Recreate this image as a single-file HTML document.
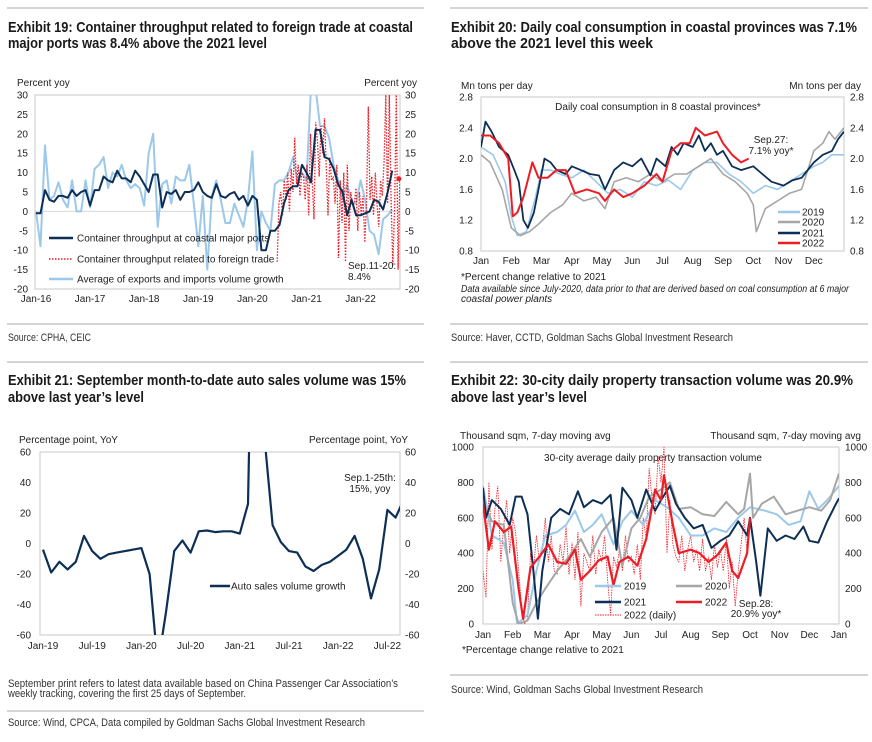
<!DOCTYPE html>
<html><head><meta charset="utf-8"><style>
html,body{margin:0;padding:0;background:#fff;}
svg{display:block;font-family:"Liberation Sans",sans-serif;}
.t{font-weight:bold;font-size:15px;fill:#1a1a1a;}
.s{font-size:11px;fill:#333;}
.ax{font-size:10px;fill:#222;}
</style></head><body>
<svg id="root" width="872" height="742" viewBox="0 0 872 742">
<defs>
<clipPath id="c1"><rect x="35" y="95" width="365" height="194"/></clipPath>
<clipPath id="c2"><rect x="481" y="97" width="363" height="154"/></clipPath>
<clipPath id="c3"><rect x="40" y="452" width="360" height="183"/></clipPath>
<clipPath id="c4"><rect x="483" y="447" width="356" height="177"/></clipPath>
</defs>
<g stroke="#d4d4d4" stroke-width="2">
<line x1="7" y1="8" x2="424" y2="8"/><line x1="450" y1="8" x2="868" y2="8"/>
<line x1="7" y1="324" x2="424" y2="324"/><line x1="450" y1="324" x2="868" y2="324"/>
<line x1="7" y1="362" x2="424" y2="362"/><line x1="450" y1="362" x2="868" y2="362"/>
<line x1="7" y1="711" x2="424" y2="711"/><line x1="450" y1="675" x2="868" y2="675"/>
</g>
<text class="t" x="8" y="32" textLength="405" lengthAdjust="spacingAndGlyphs">Exhibit 19: Container throughput related to foreign trade at coastal</text>
<text class="t" x="8" y="48" textLength="259" lengthAdjust="spacingAndGlyphs">major ports was 8.4% above the 2021 level</text>
<text class="t" x="451" y="32" textLength="406" lengthAdjust="spacingAndGlyphs">Exhibit 20: Daily coal consumption in coastal provinces was 7.1%</text>
<text class="t" x="451" y="48" textLength="202" lengthAdjust="spacingAndGlyphs">above the 2021 level this week</text>
<text class="t" x="8" y="385" textLength="398" lengthAdjust="spacingAndGlyphs">Exhibit 21: September month-to-date auto sales volume was 15%</text>
<text class="t" x="8" y="402" textLength="136" lengthAdjust="spacingAndGlyphs">above last year’s level</text>
<text class="t" x="451" y="385" textLength="402" lengthAdjust="spacingAndGlyphs">Exhibit 22: 30-city daily property transaction volume was 20.9%</text>
<text class="t" x="451" y="402" textLength="136" lengthAdjust="spacingAndGlyphs">above last year’s level</text>
<text class="s" x="8" y="341" textLength="83" lengthAdjust="spacingAndGlyphs">Source: CPHA, CEIC</text>
<text class="s" x="451" y="341" textLength="282" lengthAdjust="spacingAndGlyphs">Source: Haver, CCTD, Goldman Sachs Global Investment Research</text>
<text class="s" x="8" y="726" textLength="357" lengthAdjust="spacingAndGlyphs">Source: Wind, CPCA, Data compiled by Goldman Sachs Global Investment Research</text>
<text class="s" x="451" y="693" textLength="252" lengthAdjust="spacingAndGlyphs">Source: Wind, Goldman Sachs Global Investment Research</text>
<text class="s" x="8" y="687" textLength="390" lengthAdjust="spacingAndGlyphs">September print refers to latest data available based on China Passenger Car Association’s</text>
<text class="s" x="8" y="697" textLength="238" lengthAdjust="spacingAndGlyphs">weekly tracking, covering the first 25 days of September.</text>
<text class="ax" x="461" y="280">*Percent change relative to 2021</text>
<text class="ax" x="461" y="292" font-style="italic" textLength="388" lengthAdjust="spacingAndGlyphs">Data available since July-2020, data prior to that are derived based on coal consumption at 6 major</text>
<text class="ax" x="461" y="302" font-style="italic">coastal power plants</text>
<text class="ax" x="462" y="653">*Percentage change relative to 2021</text>
</svg>
<script>
// ---------- Exhibit 19 data ----------
const p1Months = ["Jan-16","Jan-17","Jan-18","Jan-19","Jan-20","Jan-21","Jan-22"];
const p1Ticks = [-20,-15,-10,-5,0,5,10,15,20,25,30];
const p1Ports = [-0.5,-0.5,5.5,3,2.5,4,4,3.5,5.5,4,5,5.5,1.5,5.5,5.5,9,8,7.5,10.5,8.5,8.5,7.5,10.5,9,7,5,9.5,9.5,1,5,4.5,5.5,3,5,5,5.5,7.5,5,4,3.5,7,4,3.5,4.5,5,3,4,1.5,4,3,-10,-10,-5,-5,-3.5,2,5.5,6.5,6.5,12,10,7.5,21,21,14,13.5,11,7,5,-1,3,-1,-1,-0.5,0,3,2.5,0.5,5,10.5];
const p1Trade = [0,-9,17,3,4,7.5,3,1,8,0,0,8,1,11,12,14,6,10,9,12,8,6,7,6,1.5,15,20,-4,7,8,2,9,8,8,12,2,-9,4,-15,4,8,3,-3,-3,2,-1,-4,3,15.5,-10,0,-3,-5,7,8,8,10,14,8,10,8,32,32,22,22,19,12,8,3,7,2,2,8,3,-5,-6,-11,-2,-1,0.5];
const p1Foreign = [-13,2,5,-1,8,3,10,0,11,5,19,7,12,4,10,9,3,12,-1,20,8,-2,23,18,9,22,15,24,12,-1,14,8,9,2,12,-12,8,-3,10,-13,12,-5,5,2,2,6,-5,5,-1,4,-8,2,27,3,9,-1,10,2,-4,8,4,13,30,2,30,3,-14,1,30,-15,8.4];
const p1ForeignStart = 53.5, p1ForeignEnd = 80.7;
// ---------- Exhibit 20 data ----------
const p2MonthLabels = ["Jan","Feb","Mar","Apr","May","Jun","Jul","Aug","Sep","Oct","Nov","Dec"];
const p2Ticks = [0.8,1.2,1.6,2.0,2.4,2.8];
const c2019t = [0,0.4,0.8,1.0,1.2,1.5,1.8,2.0,2.3,2.6,3.0,3.4,3.8,4.2,4.6,5.0,5.4,5.8,6.2,6.6,7.0,7.4,7.8,8.2,8.6,9.0,9.4,9.8,10.2,10.6,11.0,11.3,11.6,12];
const c2019v = [2.15,2.05,1.7,1.25,1.0,1.05,1.5,1.85,1.85,1.8,1.75,1.85,1.7,1.55,1.6,1.5,1.7,1.65,1.72,1.6,1.85,1.95,1.95,1.8,1.7,1.55,1.65,1.6,1.7,1.8,1.9,1.95,2.05,2.05];
const c2020t = [0,0.3,0.7,1.0,1.3,1.6,1.9,2.3,2.7,3.0,3.4,3.8,4.1,4.4,4.8,5.2,5.6,6.0,6.4,6.8,7.2,7.6,8.0,8.4,8.8,9.0,9.1,9.4,9.8,10.2,10.6,11.0,11.3,11.5,11.7,12];
const c2020v = [2.05,1.95,1.6,1.1,1.0,1.05,1.15,1.3,1.4,1.55,1.45,1.5,1.35,1.7,1.75,1.7,1.8,1.7,1.8,1.8,1.9,2.0,1.8,1.7,1.55,1.4,1.05,1.35,1.45,1.55,1.6,2.1,2.2,2.35,2.25,2.4];
const c2021t = [0,0.15,0.35,0.6,0.9,1.1,1.25,1.4,1.55,1.75,1.95,2.1,2.3,2.5,2.8,3.0,3.3,3.6,3.9,4.1,4.4,4.7,5.0,5.3,5.6,5.8,6.1,6.3,6.5,6.7,7.0,7.2,7.4,7.6,7.8,8.0,8.3,8.6,9.0,9.3,9.6,10.0,10.3,10.6,11.0,11.3,11.6,11.8,12];
const c2021v = [2.15,2.48,2.35,2.15,2.05,1.85,1.7,1.2,1.1,1.3,1.7,2.0,1.95,1.85,1.8,1.9,1.85,1.8,1.78,1.6,1.85,1.95,1.9,2.0,1.78,2.0,1.9,2.15,2.05,2.2,2.15,2.3,2.1,2.2,2.05,2.1,1.9,1.85,1.9,1.8,1.7,1.65,1.72,1.75,1.95,2.05,2.1,2.25,2.35];
const c2022t = [0,0.3,0.6,0.9,1.05,1.2,1.4,1.7,1.9,2.2,2.5,2.8,3.1,3.5,3.9,4.1,4.4,4.7,5.0,5.4,5.8,6.0,6.3,6.6,6.9,7.1,7.4,7.8,8.0,8.3,8.6,8.85];
const c2022v = [2.3,2.3,2.2,2.0,1.25,1.3,1.5,1.95,1.75,1.75,1.85,1.85,1.55,1.6,1.55,1.45,1.6,1.5,1.55,1.65,1.8,1.7,2.1,2.2,2.2,2.4,2.3,2.35,2.2,2.05,1.95,2.0];
// ---------- Exhibit 21 data ----------
const p3Labels = ["Jan-19","Jul-19","Jan-20","Jul-20","Jan-21","Jul-21","Jan-22","Jul-22"];
const p3Ticks = [-60,-40,-20,0,20,40,60];
const p3Auto = [-4,-19,-12,-17,-12,5,-5,-10,-7,-6,-5,-4,-3,-20,-80,-45,-5,2,-6,8,8.5,7.5,8,8,6.5,26,300,70,12,1,-5,-6,-15,-18,-14,-12,-8,-4,5,-10,-36,-17,22,17,29,15];
// ---------- Exhibit 22 data ----------
const p4MonthLabels = ["Jan","Feb","Mar","Apr","May","Jun","Jul","Aug","Sep","Oct","Nov","Dec","Jan"];
const p4Ticks = [0,200,400,600,800,1000];
const h2019t = [0,0.3,0.7,1.0,1.15,1.5,1.8,2.1,2.5,2.8,3.1,3.4,3.7,4.0,4.4,4.7,5.0,5.4,5.8,6.2,6.6,7.0,7.4,7.8,8.2,8.6,9.0,9.5,9.9,10.3,10.7,11.0,11.3,11.6,12];
const h2019v = [780,500,460,250,0,50,300,500,520,560,640,520,560,620,450,580,640,560,700,660,600,500,500,540,520,600,660,640,620,560,580,750,650,700,780];
const h2020t = [0,0.3,0.7,1.0,1.2,1.5,1.8,2.1,2.5,2.9,3.3,3.6,4.0,4.4,4.7,5.0,5.3,5.6,6.0,6.3,6.6,7.0,7.4,7.8,8.2,8.6,8.8,9.0,9.1,9.4,9.8,10.2,10.6,11.0,11.4,11.7,12];
const h2020v = [690,580,560,120,0,20,120,200,300,380,480,380,520,600,330,540,600,720,760,800,650,660,620,610,690,620,650,850,600,680,720,620,640,660,640,700,850];
const h2021t = [0,0.1,0.3,0.6,0.9,1.1,1.3,1.5,1.7,1.85,2.0,2.3,2.6,2.9,3.2,3.4,3.7,4.0,4.3,4.5,4.7,5.0,5.2,5.5,5.8,6.0,6.3,6.5,6.8,7.1,7.4,7.7,8.0,8.3,8.6,8.9,9.0,9.2,9.35,9.6,9.9,10.2,10.5,10.8,11.0,11.3,11.6,11.9,12];
const h2021v = [770,600,700,650,560,720,720,620,300,30,300,600,650,620,750,660,700,680,730,420,770,700,600,760,640,700,780,680,600,540,560,430,470,500,580,500,600,360,160,540,470,500,480,550,470,460,580,680,710];
const h2022t = [0,0.2,0.4,0.7,0.95,1.2,1.35,1.6,1.9,2.2,2.5,2.8,3.1,3.3,3.6,3.9,4.2,4.4,4.6,4.9,5.2,5.5,5.8,6.0,6.1,6.4,6.6,7.0,7.3,7.6,7.9,8.2,8.4,8.6,8.9,9.0];
const h2022v = [680,420,580,520,550,200,30,320,380,450,350,340,420,250,300,360,380,220,350,380,330,480,760,700,840,560,400,420,400,350,390,460,300,260,400,600];
const h2022daily = [300,150,800,420,650,780,350,560,700,400,600,520,300,100,0,30,400,300,500,350,420,600,350,500,300,280,450,350,550,280,460,250,520,100,400,350,300,500,280,420,350,500,250,50,380,320,420,300,500,350,380,280,450,250,600,480,880,700,620,950,800,1000,400,700,450,380,350,500,300,420,500,350,420,300,480,300,380,250,450,320,420,300,480,200,350,100,300,450,600,400,600];

const NS = 'http://www.w3.org/2000/svg';
const root = document.getElementById('root');
function mk(tag, attrs, parent){ const e=document.createElementNS(NS,tag); for(const k in attrs) e.setAttribute(k,attrs[k]); (parent||root).appendChild(e); return e; }
function txt(s, attrs, parent){ const e=mk('text',attrs,parent); e.textContent=s; return e; }
function pathD(xs, ys, sx, sy){ let d=''; for(let i=0;i<xs.length;i++){ d+=(i?'L':'M')+sx(xs[i]).toFixed(1)+','+sy(ys[i]).toFixed(1);} return d; }
const NAVY='#0d2f55', LBLUE='#9cc8ea', GRAY='#a6a6a6', RED='#ee1c25';

// ===== Panel 1 =====
(function(){
  const sx=m=>36+m*54.1/12, sy=v=>95+(30-v)*194/50;
  const g=mk('g',{});  
  const fr=mk('rect',{x:35,y:95,width:365,height:194,fill:'none',stroke:'#c8c8c8','stroke-width':1},g);
   
  const z=mk('line',{x1:35,x2:400,y1:sy(0),y2:sy(0),stroke:'#d8d8d8','stroke-width':1},g);
   
  p1Ticks.forEach(v=>{
    const a=txt(String(v),{x:28,y:sy(v)+3.5,'text-anchor':'end',class:'ax'},g);
     
    const b=txt(String(v),{x:405,y:sy(v)+3.5,class:'ax'},g);
     
  });
  p1Months.forEach((s,i)=>{
    const a=txt(s,{x:sx(i*12),y:302,'text-anchor':'middle',class:'ax'},g);
     
  });
  const l1=txt('Percent yoy',{x:17,y:86,class:'ax'},g);  
  const l2=txt('Percent yoy',{x:417,y:86,'text-anchor':'end',class:'ax'},g);  
  const cg=mk('g',{'clip-path':'url(#c1)'},g);
  const idx=a=>a.map((_,i)=>i);
  const s3=mk('path',{d:pathD(idx(p1Trade),p1Trade,sx,sy),fill:'none',stroke:LBLUE,'stroke-width':2,'stroke-linejoin':'round'},cg);
   
  const n=p1Foreign.length, fx=p1Foreign.map((_,i)=>p1ForeignStart+i*(p1ForeignEnd-p1ForeignStart)/(n-1));
  const s2=mk('path',{d:pathD(fx,p1Foreign,sx,sy),fill:'none',stroke:RED,'stroke-width':1.3,'stroke-dasharray':'1.5,1.5'},cg);
   
  const s1=mk('path',{d:pathD(idx(p1Ports),p1Ports,sx,sy),fill:'none',stroke:NAVY,'stroke-width':2,'stroke-linejoin':'round'},cg);
   
  const dot=mk('circle',{cx:sx(p1ForeignEnd)-1,cy:sy(p1Foreign[n-1]),r:2.5,fill:RED},g);
   
  const legs=[['Container throughput at coastal major ports',NAVY,'',2.5,238],['Container throughput related to foreign trade',RED,'1.5,1.5',1.5,259],['Average of exports and imports volume growth',LBLUE,'',2.5,279]];
  legs.forEach(L=>{
    const ln=mk('line',{x1:49,x2:73,y1:L[4],y2:L[4],stroke:L[1],'stroke-width':L[3],'stroke-dasharray':L[2]||'none'},g);
     
    const t=txt(L[0],{x:77,y:L[4]+3.5,class:'ax'},g);
     
  });
  const a1=txt('Sep.11-20:',{x:348,y:269,class:'ax',fill:RED},g);  
  const a2=txt('8.4%',{x:348,y:280,class:'ax',fill:RED},g);  
})();

// ===== Panel 2 =====
(function(){
  const sx=t=>481+t*30.25, sy=v=>97+(2.8-v)*77;
  const g=mk('g',{});  
  const fr=mk('rect',{x:481,y:97,width:363,height:154,fill:'none',stroke:'#c8c8c8','stroke-width':1},g);
   
  p2Ticks.forEach(v=>{
    const a=txt(v.toFixed(1),{x:473,y:sy(v)+3.5,'text-anchor':'end',class:'ax'},g);
     
    const b=txt(v.toFixed(1),{x:850,y:sy(v)+3.5,class:'ax'},g);
     
  });
  p2MonthLabels.forEach((s,i)=>{
    const a=txt(s,{x:sx(i),y:264,'text-anchor':'middle',class:'ax'},g);
     
  });
  const l1=txt('Mn tons per day',{x:461,y:89,class:'ax'},g);  
  const l2=txt('Mn tons per day',{x:861,y:89,'text-anchor':'end',class:'ax'},g);  
  const st=txt('Daily coal consumption in 8 coastal provinces*',{x:658,y:110,'text-anchor':'middle',class:'ax'},g);  
  const cg=mk('g',{'clip-path':'url(#c2)'},g);
  const S=[[c2019t,c2019v,LBLUE,1.6,'series-2019'],[c2020t,c2020v,GRAY,1.6,'series-2020'],[c2021t,c2021v,NAVY,1.8,'series-2021'],[c2022t,c2022v,RED,2,'series-2022']];
  S.forEach(s=>{
    const p=mk('path',{d:pathD(s[0],s[1],sx,sy),fill:'none',stroke:s[2],'stroke-width':s[3],'stroke-linejoin':'round'},cg);
     
  });
  const legs=[['2019',LBLUE,212],['2020',GRAY,222],['2021',NAVY,233],['2022',RED,243]];
  legs.forEach(L=>{
    const ln=mk('line',{x1:778,x2:800,y1:L[2],y2:L[2],stroke:L[1],'stroke-width':2.5},g);
     
    const t=txt(L[0],{x:802,y:L[2]+3.5,class:'ax'},g);
     
  });
  const a1=txt('Sep.27:',{x:771,y:143,'text-anchor':'middle',class:'ax',fill:RED},g);  
  const a2=txt('7.1% yoy*',{x:771,y:154,'text-anchor':'middle',class:'ax',fill:RED},g);  
})();

// ===== Panel 3 =====
(function(){
  const sx=m=>43+m*8.2, sy=v=>452+(60-v)*183/120;
  const g=mk('g',{});  
  const fr=mk('rect',{x:40,y:452,width:360,height:183,fill:'none',stroke:'#c8c8c8','stroke-width':1},g);
   
  p3Ticks.forEach(v=>{
    const a=txt(String(v),{x:31,y:sy(v)+3.5,'text-anchor':'end',class:'ax'},g);
     
    const b=txt(String(v),{x:405,y:sy(v)+3.5,class:'ax'},g);
     
  });
  p3Labels.forEach((s,i)=>{
    const a=txt(s,{x:sx(i*6),y:649,'text-anchor':'middle',class:'ax'},g);
     
  });
  const l1=txt('Percentage point, YoY',{x:19,y:443,class:'ax'},g);  
  const l2=txt('Percentage point, YoY',{x:408,y:443,'text-anchor':'end',class:'ax'},g);  
  const cg=mk('g',{'clip-path':'url(#c3)'},g);
  const p=mk('path',{d:pathD(p3Auto.map((_,i)=>i),p3Auto,sx,sy),fill:'none',stroke:NAVY,'stroke-width':2.2,'stroke-linejoin':'round'},cg);
   
  const ln=mk('line',{x1:210,x2:230,y1:586,y2:586,stroke:NAVY,'stroke-width':2.5},g);
   
  const t=txt('Auto sales volume growth',{x:231,y:589.5,class:'ax'},g);
   
  const a1=txt('Sep.1-25th:',{x:370,y:481,'text-anchor':'middle',class:'ax',fill:RED},g);  
  const a2=txt('15%, yoy',{x:370,y:492,'text-anchor':'middle',class:'ax',fill:RED},g);  
})();

// ===== Panel 4 =====
(function(){
  const sx=t=>483+t*29.67, sy=v=>624-v*0.177;
  const g=mk('g',{});  
  const fr=mk('rect',{x:483,y:447,width:356,height:177,fill:'none',stroke:'#c8c8c8','stroke-width':1},g);
   
  p4Ticks.forEach(v=>{
    const a=txt(String(v),{x:474,y:sy(v)+3.5,'text-anchor':'end',class:'ax'},g);
     
    const b=txt(String(v),{x:845,y:sy(v)+3.5,class:'ax'},g);
     
  });
  p4MonthLabels.forEach((s,i)=>{
    const a=txt(s,{x:sx(i),y:638,'text-anchor':'middle',class:'ax'},g);
     
  });
  const l1=txt('Thousand sqm, 7-day moving avg',{x:460,y:439,class:'ax'},g);  
  const l2=txt('Thousand sqm, 7-day moving avg',{x:861,y:439,'text-anchor':'end',class:'ax'},g);  
  const st=txt('30-city average daily property transaction volume',{x:653,y:461,'text-anchor':'middle',class:'ax'},g);  
  const cg=mk('g',{'clip-path':'url(#c4)'},g);
  const dt=h2022daily.map((_,i)=>i*0.1);
  const pd=mk('path',{d:pathD(dt,h2022daily,sx,sy),fill:'none',stroke:RED,'stroke-width':0.8,'stroke-dasharray':'1.5,1'},cg);
   
  const S=[[h2019t,h2019v,LBLUE,2,'series-2019'],[h2020t,h2020v,GRAY,2,'series-2020'],[h2021t,h2021v,NAVY,2,'series-2021'],[h2022t,h2022v,RED,2.2,'series-2022']];
  S.forEach(s=>{
    const p=mk('path',{d:pathD(s[0],s[1],sx,sy),fill:'none',stroke:s[2],'stroke-width':s[3],'stroke-linejoin':'round'},cg);
     
  });
  const legs=[['2019',LBLUE,595,586,'',2.5],['2020',GRAY,676,586,'',2.5],['2021',NAVY,595,602,'',2.5],['2022',RED,676,602,'',2.5],['2022 (daily)',RED,595,615,'1.5,1',1]];
  legs.forEach(L=>{
    const ln=mk('line',{x1:L[2],x2:L[2]+26,y1:L[3],y2:L[3],stroke:L[1],'stroke-width':L[5],'stroke-dasharray':L[4]||'none'},g);
     
    const t=txt(L[0],{x:L[2]+29,y:L[3]+3.5,class:'ax'},g);
     
  });
  const a1=txt('Sep.28:',{x:756,y:607,'text-anchor':'middle',class:'ax',fill:RED},g);  
  const a2=txt('20.9% yoy*',{x:756,y:617,'text-anchor':'middle',class:'ax',fill:RED},g);  
})();
</script>
</body></html>
